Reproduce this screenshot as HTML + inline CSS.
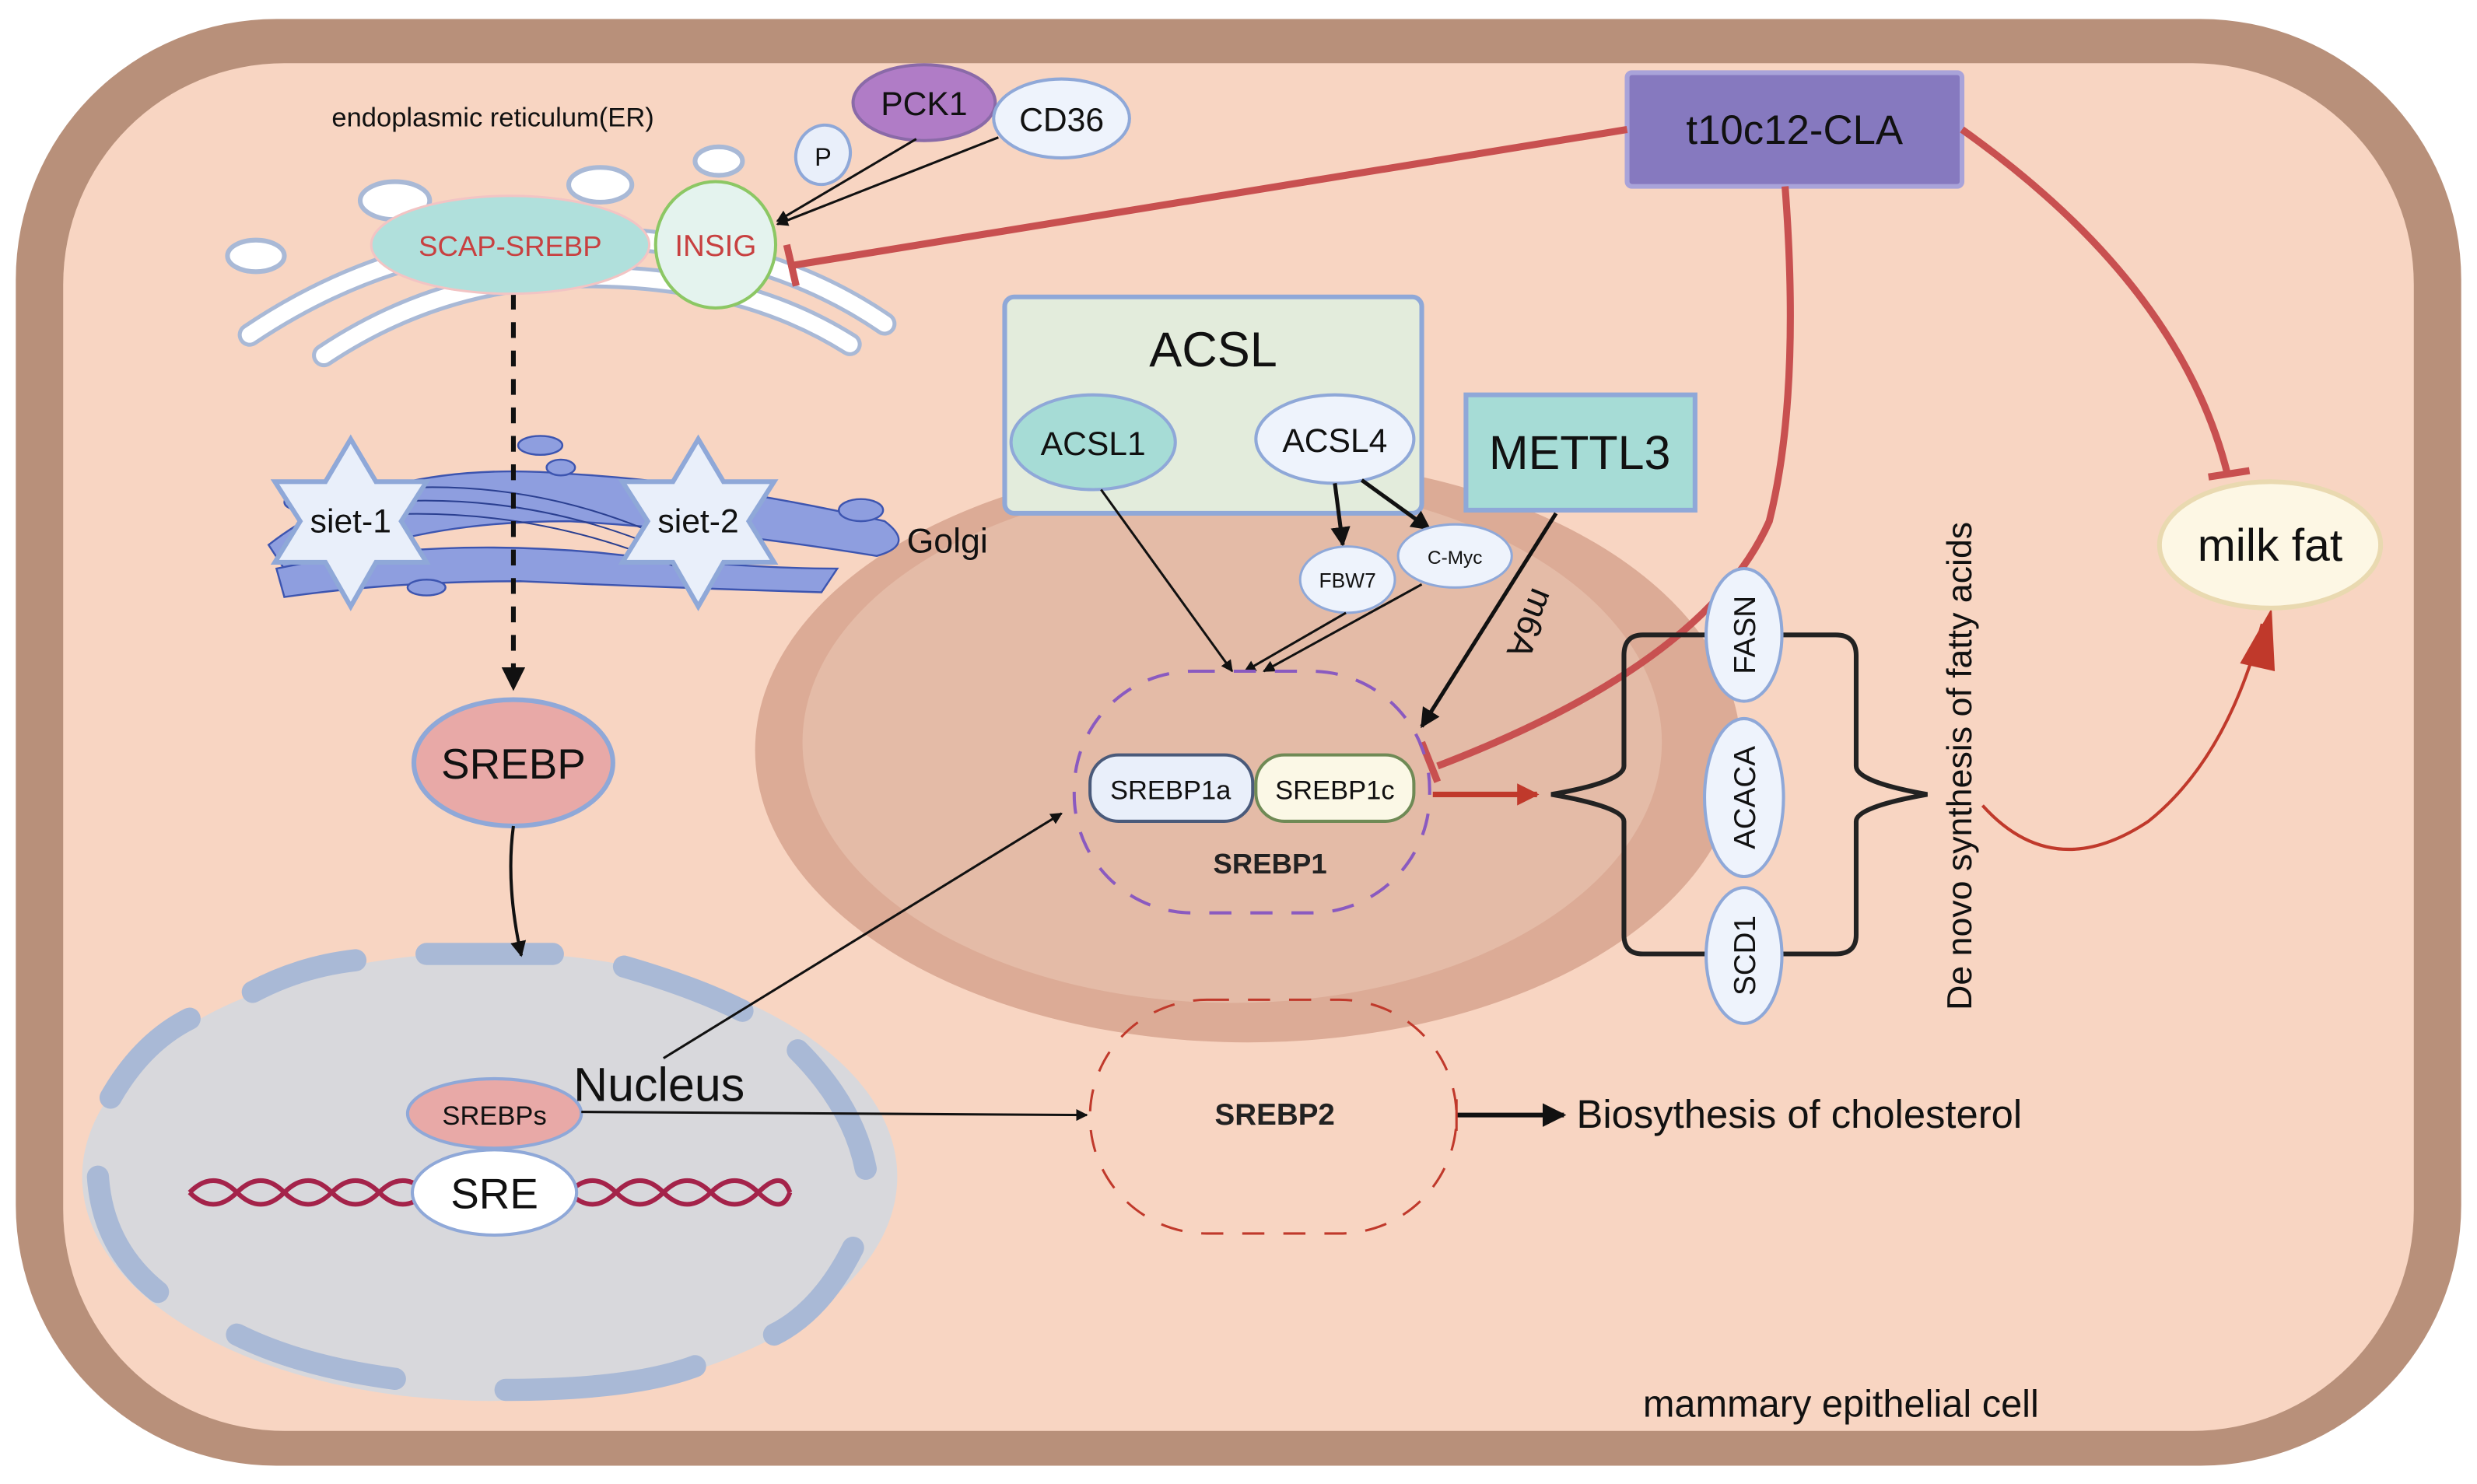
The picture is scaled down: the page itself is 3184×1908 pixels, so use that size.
<!DOCTYPE html>
<html><head><meta charset="utf-8"><style>
html,body{margin:0;padding:0;background:#fff}
svg{display:block}
text{font-family:"Liberation Sans",sans-serif}
</style></head><body>
<svg width="3184" height="1908" viewBox="0 0 1568 939.6" preserveAspectRatio="none" xmlns="http://www.w3.org/2000/svg">
<defs>
<marker id="ab" viewBox="0 0 10 10" refX="9" refY="5" markerWidth="5" markerHeight="5" orient="auto"><path d="M0,0L10,5L0,10z" fill="#111"/></marker>
<marker id="ar" viewBox="0 0 10 10" refX="9" refY="5" markerWidth="4" markerHeight="4" orient="auto"><path d="M0,0L10,5L0,10z" fill="#c0392b"/></marker>
</defs>
<rect x="0" y="0" width="1568" height="940" fill="#fff"/>
<rect x="10" y="12" width="1548" height="916" rx="165" fill="#b8907a"/>
<rect x="40" y="40" width="1488" height="866" rx="140" fill="#f8d5c2"/>
<!-- big ellipse -->
<ellipse cx="790" cy="475" rx="312" ry="185" fill="#dcab96"/>
<ellipse cx="780" cy="470" rx="272" ry="165" fill="#e4bba7"/>
<!-- nucleus -->
<ellipse cx="310" cy="745" rx="258" ry="142" fill="#d8d8dc"/>
<g fill="none" stroke="#a9b9d6" stroke-width="14" stroke-linecap="round">
<path d="M160 628 Q190 612 225 608"/>
<path d="M270 604 L350 604"/>
<path d="M395 612 Q440 625 470 640"/>
<path d="M505 665 Q540 700 548 740"/>
<path d="M540 790 Q520 830 490 845"/>
<path d="M440 865 Q400 880 320 880"/>
<path d="M250 873 Q190 865 150 845"/>
<path d="M100 818 Q65 790 62 745"/>
<path d="M70 695 Q90 660 120 645"/>
</g>
<!-- ER -->
<g fill="#fff" stroke="#a9b9d6" stroke-width="3">
<ellipse cx="250" cy="127" rx="22" ry="12"/><ellipse cx="380" cy="117" rx="20" ry="11"/><ellipse cx="455" cy="102" rx="15" ry="9"/>
<ellipse cx="162" cy="162" rx="18" ry="10"/>
</g>
<g fill="none" stroke-linecap="round">
<path d="M158 212 Q250 150 360 150 Q480 150 560 205" stroke="#a9b9d6" stroke-width="15"/>
<path d="M158 212 Q250 150 360 150 Q480 150 560 205" stroke="#fff" stroke-width="10"/>
<path d="M205 225 Q280 175 370 175 Q470 175 538 218" stroke="#a9b9d6" stroke-width="15"/>
<path d="M205 225 Q280 175 370 175 Q470 175 538 218" stroke="#fff" stroke-width="10"/>
</g>
<!-- golgi -->
<g fill="#8e9edf" stroke="#3d55b0" stroke-width="1.2">
<path d="M170 345 Q240 290 360 300 Q450 305 560 330 Q580 345 555 352 Q450 335 360 330 Q250 330 185 368 Z"/>
<path d="M175 360 Q270 340 380 350 Q470 360 530 360 L520 375 Q420 372 330 368 Q250 368 180 378 Z"/>
<ellipse cx="342" cy="282" rx="14" ry="6"/><ellipse cx="355" cy="296" rx="9" ry="5"/><ellipse cx="545" cy="323" rx="14" ry="7"/>
<ellipse cx="270" cy="372" rx="12" ry="5"/><ellipse cx="190" cy="318" rx="10" ry="5"/>
</g>
<g stroke="#2a3f90" stroke-width="1" fill="none"><path d="M240 310 Q350 300 450 355"/><path d="M240 318 Q350 310 450 362"/><path d="M240 326 Q350 320 450 369"/></g>
<!-- stars -->
<g fill="#e9effa" stroke="#8fa8d8" stroke-width="3">
<polygon points="222,278 238,305 270,305 254,330 270,356 238,356 222,384 206,356 174,356 190,330 174,305 206,305"/>
<polygon points="442,278 458,305 490,305 474,330 490,356 458,356 442,384 426,356 394,356 410,330 394,305 426,305"/>
</g>
<text x="222" y="337" font-size="21" text-anchor="middle" fill="#111">siet-1</text>
<text x="442" y="337" font-size="21" text-anchor="middle" fill="#111">siet-2</text>
<text x="574" y="350" font-size="22" fill="#111">Golgi</text>
<text x="210" y="80" font-size="17" fill="#111">endoplasmic reticulum(ER)</text>
<!-- dashed line -->
<line x1="325" y1="186" x2="325" y2="436" stroke="#111" stroke-width="3" stroke-dasharray="10 8" marker-end="url(#ab)"/>
<ellipse cx="323" cy="155" rx="88" ry="31" fill="#b0e0dc" stroke="#f2c4c4" stroke-width="1.5"/>
<text x="323" y="162" font-size="18" text-anchor="middle" fill="#c84040">SCAP-SREBP</text>
<ellipse cx="453" cy="155" rx="38" ry="40" fill="#e4f3ee" stroke="#8cc764" stroke-width="2"/>
<text x="453" y="162" font-size="19" text-anchor="middle" fill="#c84040">INSIG</text>
<ellipse cx="521" cy="98" rx="17" ry="19" fill="#e9effa" stroke="#8fa8d8" stroke-width="2" transform="rotate(20 521 98)"/>
<text x="521" y="105" font-size="16" text-anchor="middle" fill="#111">P</text>
<ellipse cx="585" cy="65" rx="45" ry="24" fill="#b07cc6" stroke="#8a6aa8" stroke-width="2"/>
<text x="585" y="73" font-size="21" text-anchor="middle" fill="#111">PCK1</text>
<ellipse cx="672" cy="75" rx="43" ry="25" fill="#eef3fc" stroke="#8fa8d8" stroke-width="2"/>
<text x="672" y="83" font-size="21" text-anchor="middle" fill="#111">CD36</text>
<line x1="580" y1="88" x2="492" y2="140" stroke="#111" stroke-width="1.5" marker-end="url(#ab)"/>
<line x1="632" y1="87" x2="492" y2="142" stroke="#111" stroke-width="1.5" marker-end="url(#ab)"/>
<!-- t10c12 -->
<rect x="1030" y="46" width="212" height="72" rx="3" fill="#8679bf" stroke="#a9a3d9" stroke-width="3"/>
<text x="1136" y="91" font-size="26" text-anchor="middle" fill="#111">t10c12-CLA</text>
<g stroke="#c85050" stroke-width="4.5" fill="none">
<line x1="1030" y1="82" x2="502" y2="168"/><line x1="498" y1="155" x2="504" y2="181"/>
<path d="M1130 118 Q1140 250 1120 330 Q1080 420 910 485"/><line x1="900" y1="470" x2="910" y2="495"/>
<path d="M1242 82 Q1380 180 1410 300"/><line x1="1398" y1="302" x2="1424" y2="298"/>
</g>
<line x1="907" y1="503" x2="973" y2="503" stroke="#c0392b" stroke-width="3.5" marker-end="url(#ar)"/>
<path d="M1255 510 Q1300 560 1360 520 Q1410 480 1432 395" stroke="#c0392b" stroke-width="2" fill="none"/>
<path d="M1418 420 L1438 385 L1440 425 Z" fill="#c0392b"/>
<!-- milk fat -->
<ellipse cx="1437" cy="345" rx="70" ry="40" fill="#fdf7e4" stroke="#e9d9b0" stroke-width="3"/>
<text x="1437" y="355" font-size="29" text-anchor="middle" fill="#111">milk fat</text>
<!-- ACSL -->
<rect x="636" y="188" width="264" height="137" rx="6" fill="#e3ecdc" stroke="#8fa8d8" stroke-width="3"/>
<text x="768" y="232" font-size="31" text-anchor="middle" fill="#111">ACSL</text>
<ellipse cx="692" cy="280" rx="52" ry="30" fill="#a6dcd6" stroke="#8fa8d8" stroke-width="2"/>
<text x="692" y="288" font-size="21" text-anchor="middle" fill="#111">ACSL1</text>
<ellipse cx="845" cy="278" rx="50" ry="28" fill="#eef3fc" stroke="#8fa8d8" stroke-width="2"/>
<text x="845" y="286" font-size="21" text-anchor="middle" fill="#111">ACSL4</text>
<rect x="928" y="250" width="145" height="73" fill="#a6dcd6" stroke="#8fa8d8" stroke-width="3"/>
<text x="1000" y="297" font-size="30" text-anchor="middle" fill="#111">METTL3</text>
<line x1="845" y1="306" x2="850" y2="345" stroke="#111" stroke-width="2.5" marker-end="url(#ab)"/>
<line x1="862" y1="304" x2="905" y2="335" stroke="#111" stroke-width="2.5" marker-end="url(#ab)"/>
<ellipse cx="853" cy="367" rx="30" ry="21" fill="#eef3fc" stroke="#8fa8d8" stroke-width="1.5"/>
<text x="853" y="372" font-size="13" text-anchor="middle" fill="#111">FBW7</text>
<ellipse cx="921" cy="352" rx="36" ry="20" fill="#eef3fc" stroke="#8fa8d8" stroke-width="1.5"/>
<text x="921" y="357" font-size="12" text-anchor="middle" fill="#111">C-Myc</text>
<line x1="697" y1="310" x2="780" y2="425" stroke="#111" stroke-width="1.5" marker-end="url(#ab)"/>
<line x1="852" y1="388" x2="788" y2="425" stroke="#111" stroke-width="1.5" marker-end="url(#ab)"/>
<line x1="900" y1="370" x2="800" y2="425" stroke="#111" stroke-width="1.5" marker-end="url(#ab)"/>
<line x1="985" y1="325" x2="900" y2="460" stroke="#111" stroke-width="2.5" marker-end="url(#ab)"/>
<text x="962" y="392" font-size="22" text-anchor="middle" fill="#111" transform="rotate(112 962 392)">m6A</text>
<!-- SREBP1 -->
<rect x="680" y="425" width="225" height="153" rx="75" fill="none" stroke="#8a5ac0" stroke-width="2" stroke-dasharray="14 12"/>
<rect x="690" y="478" width="103" height="42" rx="18" fill="#e9effa" stroke="#4a5a7a" stroke-width="2"/>
<text x="741" y="506" font-size="17" text-anchor="middle" fill="#111">SREBP1a</text>
<rect x="795" y="478" width="100" height="42" rx="18" fill="#fbf8e6" stroke="#6f8a55" stroke-width="2"/>
<text x="845" y="506" font-size="17" text-anchor="middle" fill="#111">SREBP1c</text>
<text x="804" y="553" font-size="18" font-weight="bold" text-anchor="middle" fill="#222">SREBP1</text>
<!-- SREBP2 -->
<rect x="690" y="633" width="232" height="148" rx="74" fill="none" stroke="#c0392b" stroke-width="1.5" stroke-dasharray="14 12"/>
<text x="807" y="712" font-size="19" font-weight="bold" text-anchor="middle" fill="#222">SREBP2</text>
<line x1="922" y1="706" x2="990" y2="706" stroke="#111" stroke-width="3" marker-end="url(#ab)"/>
<line x1="922" y1="696" x2="922" y2="716" stroke="#c0392b" stroke-width="1.5"/>
<text x="998" y="714" font-size="25" fill="#111">Biosythesis of cholesterol</text>
<!-- brace -->
<path d="M1085 402 L1040 402 Q1028 402 1028 415 L1028 485 Q1028 495 982 503 Q1028 511 1028 520 L1028 592 Q1028 604 1040 604 L1085 604" fill="none" stroke="#222" stroke-width="3"/>
<path d="M1125 402 L1162 402 Q1175 402 1175 415 L1175 485 Q1175 495 1220 503 Q1175 511 1175 520 L1175 592 Q1175 604 1162 604 L1125 604" fill="none" stroke="#222" stroke-width="3"/>
<g fill="#eef3fc" stroke="#8fa8d8" stroke-width="2">
<ellipse cx="1104" cy="402" rx="24" ry="42"/><ellipse cx="1104" cy="505" rx="25" ry="50"/><ellipse cx="1104" cy="605" rx="24" ry="43"/>
</g>
<text font-size="19" fill="#111" text-anchor="middle" transform="translate(1111 402) rotate(-90)">FASN</text>
<text font-size="19" fill="#111" text-anchor="middle" transform="translate(1111 505) rotate(-90)">ACACA</text>
<text font-size="19" fill="#111" text-anchor="middle" transform="translate(1111 605) rotate(-90)">SCD1</text>
<text font-size="22" fill="#111" text-anchor="middle" transform="translate(1248 485) rotate(-90)">De novo synthesis of fatty acids</text>
<!-- SREBP -->
<ellipse cx="325" cy="483" rx="63" ry="40" fill="#e8a9a7" stroke="#8fa8d8" stroke-width="3"/>
<text x="325" y="493" font-size="27" text-anchor="middle" fill="#111">SREBP</text>
<path d="M325 523 Q320 560 330 605" stroke="#111" stroke-width="2" fill="none" marker-end="url(#ab)"/>
<!-- DNA -->
<g stroke="#a4234a" stroke-width="3" fill="none">
<path d="M120 755 Q135 740 150 755 T180 755 T210 755 T240 755 T270 755"/>
<path d="M120 755 Q135 770 150 755 T180 755 T210 755 T240 755 T270 755"/>
<path d="M360 755 Q375 740 390 755 T420 755 T450 755 T480 755 T500 755"/>
<path d="M360 755 Q375 770 390 755 T420 755 T450 755 T480 755 T500 755"/>
</g>
<ellipse cx="313" cy="705" rx="55" ry="22" fill="#e8a9a7" stroke="#8fa8d8" stroke-width="2"/>
<text x="313" y="712" font-size="17" text-anchor="middle" fill="#111">SREBPs</text>
<ellipse cx="313" cy="755" rx="52" ry="27" fill="#fff" stroke="#8fa8d8" stroke-width="2"/>
<text x="313" y="765" font-size="27" text-anchor="middle" fill="#111">SRE</text>
<text x="363" y="697" font-size="30" fill="#111">Nucleus</text>
<line x1="368" y1="704" x2="688" y2="706" stroke="#111" stroke-width="1.5" marker-end="url(#ab)"/>
<line x1="420" y1="670" x2="672" y2="515" stroke="#111" stroke-width="1.5" marker-end="url(#ab)"/>
<text x="1040" y="897" font-size="24" fill="#111">mammary epithelial cell</text>
</svg>
</body></html>
